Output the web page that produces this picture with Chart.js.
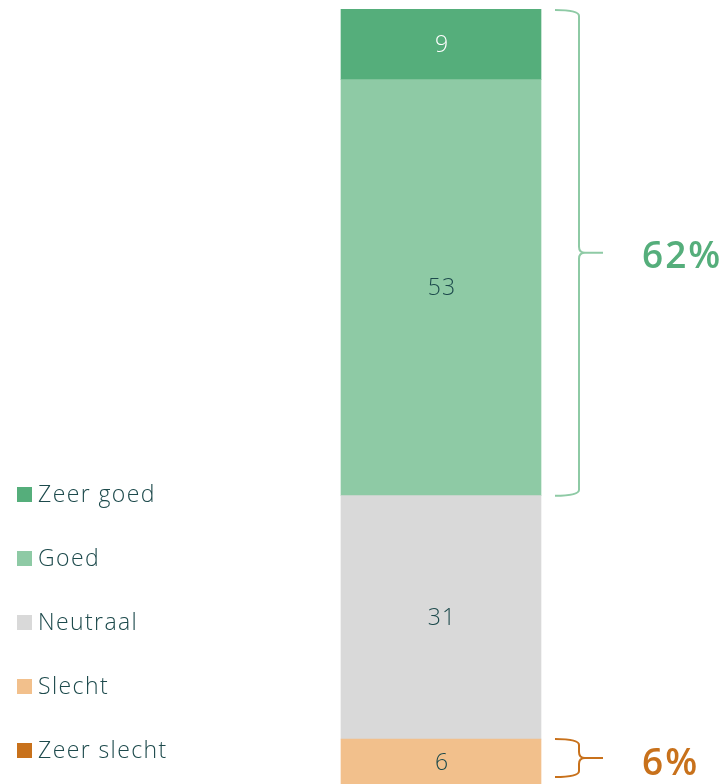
<!DOCTYPE html>
<html>
<head>
<meta charset="utf-8">
<script src="https://cdn.jsdelivr.net/npm/chart.js@4"></script>
<style>
  html, body { margin: 0; padding: 0; background: #fff; overflow: hidden; }
  #wrap { width: 726px; height: 794px; position: relative; }
</style>
</head>
<body>
<div id="wrap"><canvas id="tevredenheid"></canvas></div>
<script>
// categorieen (van onder naar boven gestapeld)
const labels = ['Zeer slecht', 'Slecht', 'Neutraal', 'Goed', 'Zeer goed'];
const waarden = [1, 6, 31, 53, 9];
const kleuren = ['#c8711b', '#f2c08c', '#d9d9d9', '#8ecaa5', '#55ae7b'];
const labelKleur = ['#1d4a4c', '#1d4a4c', '#1d4a4c', '#1d4a4c', '#ffffff'];
const positief = '62%';
const negatief = '6%';

const tekst = '#1d4a4c';
const font = '"Open Sans", Lato, sans-serif';

const datasets = labels.map((l, i) => ({
  label: l,
  data: [waarden[i]],
  backgroundColor: kleuren[i],
  barThickness: 200,
  borderWidth: 0
}));

// waarden in de balk + legenda links + accolades rechts
const extra = {
  id: 'extra',
  afterDatasetsDraw(chart) {
    const ctx = chart.ctx;
    const y = chart.scales.y;
    ctx.save();

    // labels in segmenten (niet voor heel kleine waarden)
    chart.data.datasets.forEach((ds, i) => {
      const bar = chart.getDatasetMeta(i).data[0];
      if (ds.data[0] < 3) return;
      ctx.fillStyle = labelKleur[i];
      ctx.font = '300 23px ' + font;
      ctx.letterSpacing = '1px';
      ctx.textAlign = 'center';
      ctx.textBaseline = 'middle';
      ctx.fillText(ds.data[0], bar.x + 1, (bar.y + bar.base) / 2 + 1);
    });

    // legenda, van boven naar onder
    const items = chart.data.datasets.slice().reverse();
    items.forEach((ds, k) => {
      const cy = 494 + k * 64;
      ctx.fillStyle = ds.backgroundColor;
      ctx.fillRect(17, cy - 7, 15, 15);
      ctx.fillStyle = tekst;
      ctx.font = '300 23px ' + font;
      ctx.letterSpacing = '1.4px';
      ctx.textAlign = 'left';
      ctx.textBaseline = 'middle';
      ctx.fillText(ds.label, 38, cy + 1);
    });

    // accolades
    const som = (a, b) => waarden.slice(a, b).reduce((s, v) => s + v, 0);
    const totaal = som(0, waarden.length);
    function accolade(top, bot, kleur, txtKleur, txt, dy) {
      const x0 = 555, x1 = 579, xp = 603;
      const mid = (top + bot) / 2;
      const r = 6;
      ctx.strokeStyle = kleur;
      ctx.lineWidth = 2;
      ctx.beginPath();
      ctx.moveTo(x0, top);
      ctx.quadraticCurveTo(x1, top, x1, top + r);
      ctx.lineTo(x1, mid - r);
      ctx.quadraticCurveTo(x1, mid, x1 + 6, mid);
      ctx.lineTo(xp, mid);
      ctx.moveTo(x1 + 6, mid);
      ctx.quadraticCurveTo(x1, mid, x1, mid + r);
      ctx.lineTo(x1, bot - r);
      ctx.quadraticCurveTo(x1, bot, x0, bot);
      ctx.stroke();
      ctx.fillStyle = txtKleur;
      ctx.font = '600 37px ' + font;
      ctx.letterSpacing = '2px';
      ctx.textAlign = 'left';
      ctx.textBaseline = 'middle';
      ctx.fillText(txt, xp + 39, mid + dy);
    }
    const ySlechtTop = y.getPixelForValue(som(0, 2));
    const yGoedBot = y.getPixelForValue(som(0, 3));
    const yTop = y.getPixelForValue(totaal);
    accolade(yTop + 1, yGoedBot, '#8ecaa5', '#55ae7b', positief, 5);
    accolade(ySlechtTop, Math.min(y.getPixelForValue(som(0, 1)), 777), '#c8711b', '#c8711b', negatief, 6);

    ctx.restore();
  }
};

new Chart(document.getElementById('tevredenheid'), {
  type: 'bar',
  data: { labels: [''], datasets: datasets },
  options: {
    responsive: true,
    maintainAspectRatio: false,
    animation: false,
    layout: { padding: { left: 156, right: 0, top: 9, bottom: 0 } },
    plugins: { legend: { display: false }, tooltip: { enabled: false } },
    scales: {
      x: { stacked: true, display: false },
      y: { stacked: true, display: false, min: 0, max: 100 }
    }
  },
  plugins: [extra]
});
</script>
</body>
</html>
